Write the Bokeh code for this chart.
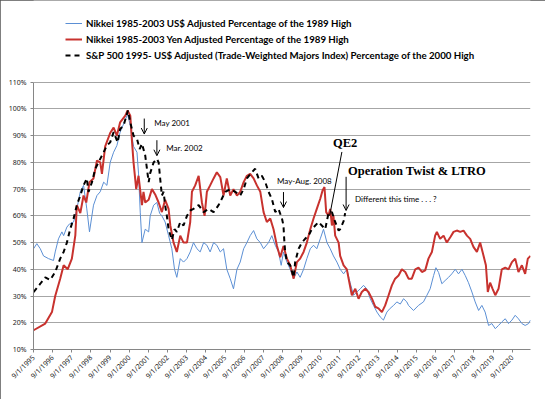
import math
from bokeh.plotting import figure
from bokeh.models import (Legend, LegendItem, Label, Arrow, OpenHead, FixedTicker,
                          CustomJSTickFormatter, PrintfTickFormatter, Range1d)
from bokeh.embed import file_html
from bokeh.resources import INLINE

# ---- data (x = decimal year, y = % of prior high) ----
usd_x = [1995.67, 1995.84, 1996.02, 1996.19, 1996.45, 1996.71, 1996.80, 1996.97, 1997.15, 1997.24,
         1997.41, 1997.55, 1997.76, 1997.93, 1998.11, 1998.28, 1998.45, 1998.59, 1998.80, 1998.98,
         1999.15, 1999.33, 1999.50, 1999.67, 1999.85, 2000.02, 2000.19, 2000.37, 2000.58, 2000.72,
         2000.89, 2001.07, 2001.15, 2001.24, 2001.33, 2001.50, 2001.68, 2001.76, 2001.94, 2002.11,
         2002.25, 2002.37, 2002.54, 2002.72, 2002.89, 2003.03, 2003.15, 2003.33, 2003.50, 2003.68,
         2003.85, 2004.02, 2004.20, 2004.37, 2004.55, 2004.72, 2004.89, 2005.07, 2005.24, 2005.42,
         2005.59, 2005.76, 2005.94, 2006.11, 2006.29, 2006.46, 2006.64, 2006.81, 2006.98, 2007.16,
         2007.33, 2007.51, 2007.68, 2007.94, 2008.11, 2008.29, 2008.46, 2008.60, 2008.72, 2008.90,
         2009.07, 2009.25, 2009.42, 2009.59, 2009.77, 2009.94, 2010.12, 2010.29, 2010.46, 2010.64,
         2010.81, 2010.99, 2011.16, 2011.33, 2011.51, 2011.68, 2011.86, 2012.03, 2012.20, 2012.38,
         2012.55, 2012.73, 2012.90, 2013.07, 2013.25, 2013.42, 2013.60, 2013.77, 2013.94, 2014.12,
         2014.29, 2014.47, 2014.64, 2014.82, 2014.99, 2015.16, 2015.25, 2015.51, 2015.77, 2016.03,
         2016.21, 2016.38, 2016.56, 2016.68, 2016.82, 2016.99, 2017.16, 2017.34, 2017.51, 2017.69,
         2017.86, 2018.04, 2018.21, 2018.38, 2018.56, 2018.73, 2018.91, 2019.08, 2019.25, 2019.43,
         2019.60, 2019.78, 2019.95, 2020.12, 2020.30, 2020.47, 2020.65, 2020.82, 2020.99, 2021.17,
         2021.34, 2021.52, 2021.62]
usd_y = [47.7, 49.6, 47.7, 45.0, 44.0, 43.3, 46.5, 51.4, 54.0, 52.6,
         55.8, 57.0, 57.7, 62.6, 69.0, 71.4, 62.6, 54.0, 64.0, 67.6,
         69.0, 72.6, 71.4, 80.0, 83.8, 86.3, 91.3, 94.4, 98.0, 93.8,
         86.0, 83.8, 76.0, 61.4, 50.0, 55.0, 54.0, 60.0, 64.0, 65.0,
         61.0, 60.0, 57.7, 52.6, 47.7, 40.0, 37.0, 44.0, 42.7, 44.0,
         46.5, 50.0, 47.7, 46.5, 50.0, 49.0, 46.5, 50.0, 49.0, 46.5,
         47.7, 40.0, 36.5, 32.7, 40.0, 42.7, 47.7, 50.0, 52.6, 54.5,
         51.4, 50.0, 47.7, 50.0, 52.6, 49.0, 46.5, 41.5, 46.5, 42.7,
         40.0, 36.5, 39.0, 37.0, 40.0, 44.0, 47.7, 49.0, 47.7, 51.4,
         55.0, 50.0, 47.7, 45.0, 42.7, 40.0, 38.3, 40.0, 35.0, 30.3,
         31.5, 32.7, 34.0, 32.7, 29.0, 26.5, 24.0, 22.2, 21.0, 24.0,
         25.4, 26.5, 27.8, 27.0, 29.0, 27.8, 26.5, 24.6, 26.5, 27.8,
         30.3, 32.7, 37.7, 40.6, 38.8, 34.6, 35.8, 37.0, 38.3, 40.0,
         38.3, 40.0, 37.7, 35.0, 31.5, 27.8, 24.6, 26.5, 24.0, 19.0,
         19.7, 17.8, 19.0, 20.3, 21.5, 19.7, 21.0, 22.8, 21.5, 19.7,
         19.0, 19.7, 21.0]

yen_x = [1995.67, 1996.28, 1996.63, 1996.80, 1997.06, 1997.24, 1997.45, 1997.67, 1997.85, 1997.93,
         1998.11, 1998.28, 1998.42, 1998.59, 1998.80, 1998.98, 1999.15, 1999.24, 1999.41, 1999.67,
         1999.85, 2000.02, 2000.19, 2000.46, 2000.58, 2000.72, 2000.80, 2000.89, 2001.03, 2001.15,
         2001.33, 2001.41, 2001.50, 2001.68, 2001.85, 2002.02, 2002.20, 2002.37, 2002.54, 2002.72,
         2002.81, 2002.98, 2003.15, 2003.33, 2003.50, 2003.68, 2003.85, 2003.94, 2004.11, 2004.29,
         2004.46, 2004.60, 2004.72, 2004.89, 2005.07, 2005.24, 2005.42, 2005.59, 2005.76, 2005.94,
         2006.11, 2006.29, 2006.46, 2006.64, 2006.81, 2006.98, 2007.16, 2007.33, 2007.51, 2007.68,
         2007.85, 2008.03, 2008.20, 2008.38, 2008.55, 2008.72, 2008.90, 2009.07, 2009.25, 2009.42,
         2009.59, 2009.77, 2009.94, 2010.12, 2010.29, 2010.46, 2010.64, 2010.76, 2010.86, 2010.95,
         2011.07, 2011.16, 2011.25, 2011.33, 2011.42, 2011.60, 2011.68, 2011.86, 2012.03, 2012.12,
         2012.29, 2012.47, 2012.64, 2012.81, 2012.99, 2013.16, 2013.34, 2013.51, 2013.68, 2013.86,
         2014.03, 2014.21, 2014.38, 2014.55, 2014.73, 2014.90, 2015.08, 2015.25, 2015.42, 2015.60,
         2015.77, 2015.95, 2016.12, 2016.29, 2016.47, 2016.64, 2016.73, 2016.90, 2017.08, 2017.25,
         2017.43, 2017.60, 2017.77, 2017.95, 2018.12, 2018.30, 2018.47, 2018.64, 2018.82, 2018.99,
         2019.17, 2019.29, 2019.39, 2019.51, 2019.64, 2019.78, 2019.95, 2020.12, 2020.30, 2020.47,
         2020.65, 2020.82, 2020.99, 2021.17, 2021.34, 2021.48, 2021.62]
yen_y = [17.2, 19.7, 24.0, 30.0, 36.5, 41.5, 40.0, 44.0, 52.7, 64.0,
         61.0, 67.6, 65.0, 72.6, 74.0, 80.7, 80.0, 75.7, 86.0, 91.0,
         93.0, 90.0, 95.0, 97.5, 99.4, 97.5, 88.8, 80.0, 70.0, 75.0,
         64.0, 69.0, 65.0, 66.0, 70.0, 68.0, 65.0, 61.4, 66.0, 62.6,
         56.4, 50.0, 46.5, 52.6, 50.0, 50.0, 57.7, 69.0, 71.4, 75.0,
         65.0, 60.0, 69.0, 71.4, 74.0, 76.3, 74.5, 67.6, 74.0, 67.6,
         70.0, 67.6, 69.0, 72.6, 75.0, 75.7, 74.0, 71.4, 69.0, 61.4,
         57.7, 59.0, 55.0, 48.7, 44.5, 48.7, 44.0, 41.5, 36.5, 42.7,
         44.0, 46.5, 50.0, 55.0, 59.0, 62.6, 66.4, 69.5, 70.8, 61.4,
         60.0, 62.6, 56.4, 60.0, 52.6, 50.0, 45.0, 41.5, 40.0, 36.5,
         30.3, 32.7, 29.0, 31.5, 32.7, 31.5, 29.0, 26.0, 25.4, 24.0,
         26.5, 30.3, 34.0, 36.5, 37.7, 40.0, 39.0, 36.5, 36.5, 40.0,
         40.6, 39.0, 39.6, 44.0, 46.5, 52.6, 54.0, 51.4, 52.6, 50.0,
         52.0, 54.0, 54.5, 54.0, 54.5, 52.6, 51.4, 48.4, 46.5, 50.0,
         45.0, 41.5, 31.5, 35.0, 32.7, 30.3, 32.7, 40.0, 40.6, 40.0,
         42.7, 44.0, 39.0, 41.5, 38.3, 44.0, 45.0]

sp_x = [1995.67, 1996.02, 1996.28, 1996.54, 1996.80, 1997.06, 1997.24, 1997.41, 1997.58, 1997.76,
        1997.93, 1998.11, 1998.28, 1998.45, 1998.54, 1998.72, 1998.89, 1999.15, 1999.33, 1999.50,
        1999.67, 1999.85, 2000.06, 2000.19, 2000.37, 2000.60, 2000.72, 2000.89, 2001.07, 2001.21,
        2001.33, 2001.50, 2001.68, 2001.76, 2001.94, 2002.11, 2002.20, 2002.28, 2002.37, 2002.46,
        2002.54, 2002.63, 2002.72, 2002.89, 2003.03, 2003.15, 2003.33, 2003.50, 2003.68, 2003.85,
        2004.02, 2004.29, 2004.55, 2004.81, 2005.07, 2005.33, 2005.50, 2005.68, 2005.94, 2006.20,
        2006.46, 2006.64, 2006.81, 2007.07, 2007.24, 2007.42, 2007.59, 2007.77, 2007.94, 2008.11,
        2008.29, 2008.46, 2008.64, 2008.72, 2008.76, 2008.81, 2008.90, 2009.07, 2009.25, 2009.33,
        2009.51, 2009.68, 2009.85, 2010.03, 2010.20, 2010.38, 2010.55, 2010.72, 2010.90, 2011.07,
        2011.25, 2011.42, 2011.60, 2011.68, 2011.86, 2011.94]
sp_y = [31.5, 34.6, 37.0, 36.0, 39.0, 44.0, 46.5, 50.0, 55.0, 59.0,
        64.0, 67.6, 71.4, 74.0, 69.0, 72.6, 77.6, 81.3, 83.8, 86.3,
        87.5, 91.3, 87.5, 92.5, 93.8, 99.4, 95.0, 90.0, 88.8, 85.0,
        87.0, 82.6, 72.6, 76.0, 80.0, 81.3, 80.0, 74.0, 67.6, 69.0,
        64.0, 60.0, 55.0, 51.0, 55.0, 54.0, 57.7, 56.4, 60.0, 62.0,
        62.6, 64.0, 61.4, 62.6, 61.4, 64.0, 66.4, 69.0, 70.0, 69.0,
        67.6, 70.0, 74.0, 76.3, 77.6, 74.0, 75.0, 72.6, 69.0, 66.4,
        61.4, 62.6, 59.0, 56.4, 51.0, 46.5, 42.7, 41.5, 37.0, 42.7,
        47.7, 50.0, 51.4, 52.6, 55.0, 56.4, 57.7, 56.4, 55.0, 61.0,
        61.4, 57.7, 54.5, 55.0, 58.0, 61.0]

tick_years = list(range(1995, 2021))
y_ticks = [10, 20, 30, 40, 50, 60, 70, 80, 90, 100, 110]

legend_labels = ["Nikkei 1985-2003 US$ Adjusted Percentage of the 1989 High",
                 "Nikkei 1985-2003 Yen Adjusted Percentage of the 1989 High",
                 "S&P 500 1995- US$ Adjusted (Trade-Weighted Majors Index) Percentage of the 2000 High"]

# ---- figure ----
# frame spans the full height above the x axis; the legend lives in its upper part
x0 = 1995 + 2.0 / 3.0 - 0.0005
px_per_pct = 2.673
frame_h = 399 - 50
p = figure(width=545, height=399, output_backend="svg", toolbar_location=None,
           x_range=Range1d(x0, x0 + 497 / 19.15),
           y_range=Range1d(10, 10 + frame_h / px_per_pct),
           min_border_left=33, min_border_right=15, min_border_top=0, min_border_bottom=50)
p.styles = {"outline": "1px solid #555555", "outline-offset": "-1px"}
p.outline_line_color = None
p.background_fill_color = "white"
p.border_fill_color = "white"

p.xgrid.visible = False
p.ygrid.ticker = FixedTicker(ticks=y_ticks)
p.ygrid.grid_line_color = "#a6a6a6"
p.ygrid.grid_line_width = 1

p.yaxis.ticker = FixedTicker(ticks=y_ticks)
p.yaxis.bounds = (10, 110)
p.yaxis.formatter = PrintfTickFormatter(format="%d%%")
p.xaxis.ticker = FixedTicker(ticks=[y + 2.0 / 3.0 for y in tick_years])
p.xaxis.formatter = CustomJSTickFormatter(code="return '9/1/' + Math.round(tick - 2/3);")
p.xaxis.major_label_orientation = math.pi / 4

for ax in (p.xaxis, p.yaxis):
    ax.axis_line_color = "#868686"
    ax.major_tick_line_color = "#868686"
    ax.minor_tick_line_color = None
    ax.major_tick_in = 0
    ax.major_tick_out = 3
    ax.major_label_standoff = 4
    ax.major_label_text_font = "Noto Sans"
    ax.major_label_text_font_size = "7px"
    ax.major_label_text_color = "#1a1a1a"

r_usd = p.line(usd_x, usd_y, line_color="#5b8fd4", line_width=1)
r_yen = p.line(yen_x, yen_y, line_color="#c8322e", line_width=2)
r_sp = p.line(sp_x, sp_y, line_color="black", line_width=2, line_dash="5 4")

legend = Legend(items=[LegendItem(label=legend_labels[0], renderers=[r_usd]),
                       LegendItem(label=legend_labels[1], renderers=[r_yen]),
                       LegendItem(label=legend_labels[2], renderers=[r_sp])],
                location=(32, frame_h - 63), orientation="vertical",
                border_line_color=None, background_fill_alpha=0,
                padding=0, margin=0, spacing=0,
                glyph_width=17, glyph_height=16, label_height=16, label_standoff=4,
                label_text_font="Lato", label_text_font_style="bold",
                label_text_font_size="9.7px", label_text_color="black")
p.add_layout(legend, "center")

# ---- annotations ----
def note(x, y, text, font="Lato", size="8px", style="normal", align="left"):
    p.add_layout(Label(x=x, y=y, text=text, text_font=font, text_font_size=size,
                       text_font_style=style, text_align=align, text_baseline="middle",
                       text_color="black"))

def arrow(xa, ya, xb, yb, head=True):
    p.add_layout(Arrow(end=OpenHead(size=6, line_width=1, line_color="black") if head else None,
                       x_start=xa, y_start=ya, x_end=xb, y_end=yb,
                       line_color="black", line_width=1))

note(2001.97, 94.8, "May 2001")
arrow(2001.45, 96.4, 2001.45, 90.6)
note(2002.60, 85.5, "Mar. 2002")
arrow(2002.11, 88.3, 2002.11, 82.5)
note(2008.38, 72.9, "May-Aug. 2008")
arrow(2008.72, 68.9, 2008.72, 63.1)
note(2011.94, 87.2, "QE2", font="Liberation Serif", size="12.5px", style="bold", align="center")
arrow(2011.77, 83.9, 2011.13, 60.0, head=False)
note(2012.09, 76.8, "Operation Twist & LTRO", font="Liberation Serif", size="12.5px", style="bold")
arrow(2011.99, 74.6, 2011.99, 62.0)
note(2012.46, 66.2, "Different this time . . . ?")

open("out.html", "w").write(file_html(p, INLINE))
